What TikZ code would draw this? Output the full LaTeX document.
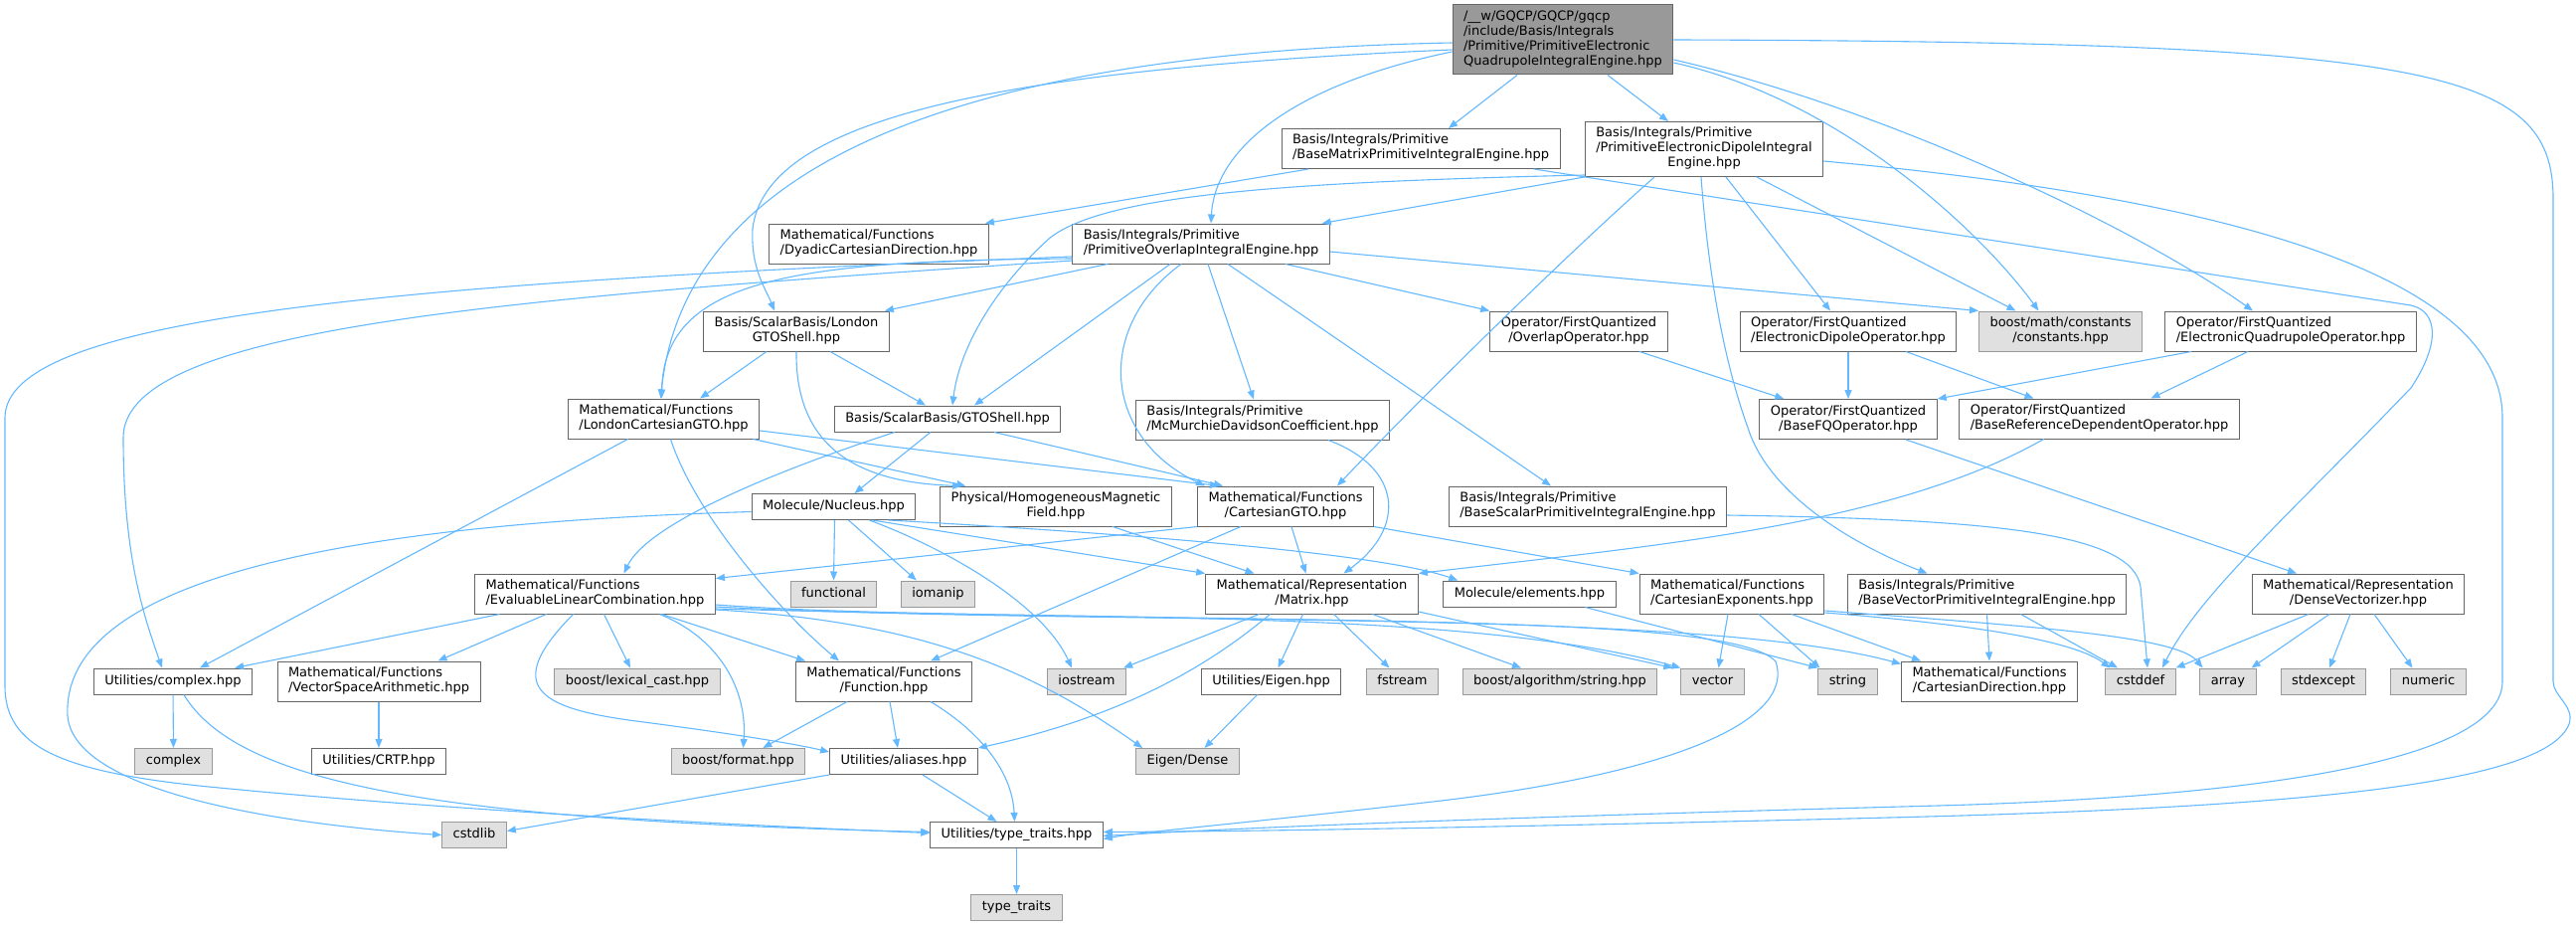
\documentclass[tikz,border=0pt]{standalone}
\usepackage{fontspec}
\setmainfont{DejaVu Sans}
\usetikzlibrary{arrows.meta}
\definecolor{boxgray}{HTML}{666666}
\definecolor{libgray}{HTML}{999999}
\definecolor{libfill}{HTML}{E0E0E0}
\definecolor{srcfill}{HTML}{999999}
\definecolor{edgeblue}{HTML}{63B8FF}
\newcommand{\twoline}[2]{\begin{tabular}{@{}l@{}}#1\\\multicolumn{1}{@{}c@{}}{#2}\end{tabular}}
\newcommand{\oneline}[1]{\begin{tabular}{@{}c@{}}#1\end{tabular}}

\begin{document}
\begin{tikzpicture}[x=1pt, y=-1pt, >={Triangle[length=9pt,width=7pt]},
    hdr/.style={draw=boxgray, fill=white, line width=1pt, inner xsep=11pt, inner ysep=5pt,
                minimum height=26pt, font=\fontsize{13}{15}\selectfont},
    lib/.style={hdr, draw=libgray, fill=libfill},
    src/.style={hdr, fill=srcfill},
    inc/.style={->, draw=edgeblue, line width=1.1pt}]
    \useasboundingbox (0,0) rectangle (2591,931);

    \node[src] (root) at (1572,40) {\twoline{/\_\_w/GQCP/GQCP/gqcp\\/include/Basis/Integrals\\/Primitive/PrimitiveElectronic}{QuadrupoleIntegralEngine.hpp}};
    \node[hdr] (bmat) at (1429,149.5) {\twoline{Basis/Integrals/Primitive}{/BaseMatrixPrimitiveIntegralEngine.hpp}};
    \node[hdr] (dip) at (1714,150) {\twoline{Basis/Integrals/Primitive\\/PrimitiveElectronicDipoleIntegral}{Engine.hpp}};
    \node[hdr] (dyad) at (884,245) {\twoline{Mathematical/Functions}{/DyadicCartesianDirection.hpp}};
    \node[hdr] (ovl) at (1208,245) {\twoline{Basis/Integrals/Primitive}{/PrimitiveOverlapIntegralEngine.hpp}};
    \node[hdr] (lgto) at (801,333) {\twoline{Basis/ScalarBasis/London}{GTOShell.hpp}};
    \node[hdr] (ovop) at (1588,333) {\twoline{Operator/FirstQuantized}{/OverlapOperator.hpp}};
    \node[hdr] (dipop) at (1859,333) {\twoline{Operator/FirstQuantized}{/ElectronicDipoleOperator.hpp}};
    \node[lib] (bmc) at (2072.5,333) {\twoline{boost/math/constants}{/constants.hpp}};
    \node[hdr] (quadop) at (2304,333) {\twoline{Operator/FirstQuantized}{/ElectronicQuadrupoleOperator.hpp}};
    \node[hdr] (lcart) at (667.5,421) {\twoline{Mathematical/Functions}{/LondonCartesianGTO.hpp}};
    \node[hdr] (gto) at (953,421) {\oneline{Basis/ScalarBasis/GTOShell.hpp}};
    \node[hdr] (mcm) at (1270,422) {\twoline{Basis/Integrals/Primitive}{/McMurchieDavidsonCoefficient.hpp}};
    \node[hdr] (bfq) at (1859,421.5) {\twoline{Operator/FirstQuantized}{/BaseFQOperator.hpp}};
    \node[hdr] (bref) at (2111.5,421) {\twoline{Operator/FirstQuantized}{/BaseReferenceDependentOperator.hpp}};
    \node[hdr] (nuc) at (838.5,509.5) {\oneline{Molecule/Nucleus.hpp}};
    \node[hdr] (hmf) at (1062,509) {\twoline{Physical/HomogeneousMagnetic}{Field.hpp}};
    \node[hdr] (cgto) at (1293,509) {\twoline{Mathematical/Functions}{/CartesianGTO.hpp}};
    \node[hdr] (bscal) at (1597,509) {\twoline{Basis/Integrals/Primitive}{/BaseScalarPrimitiveIntegralEngine.hpp}};
    \node[hdr] (elc) at (598.5,597) {\twoline{Mathematical/Functions}{/EvaluableLinearCombination.hpp}};
    \node[lib] (fnl) at (838.5,597) {\oneline{functional}};
    \node[lib] (iom) at (943.5,597) {\oneline{iomanip}};
    \node[hdr] (mat) at (1319.5,597) {\twoline{Mathematical/Representation}{/Matrix.hpp}};
    \node[hdr] (elem) at (1538.5,597) {\oneline{Molecule/elements.hpp}};
    \node[hdr] (cexp) at (1742,597) {\twoline{Mathematical/Functions}{/CartesianExponents.hpp}};
    \node[hdr] (bvec) at (1998.5,597) {\twoline{Basis/Integrals/Primitive}{/BaseVectorPrimitiveIntegralEngine.hpp}};
    \node[hdr] (dvec) at (2372,597) {\twoline{Mathematical/Representation}{/DenseVectorizer.hpp}};
    \node[hdr] (ucpx) at (174,685) {\oneline{Utilities/complex.hpp}};
    \node[hdr] (vsa) at (381,685) {\twoline{Mathematical/Functions}{/VectorSpaceArithmetic.hpp}};
    \node[lib] (lex) at (641,685) {\oneline{boost/lexical\_cast.hpp}};
    \node[hdr] (fun) at (889,685) {\twoline{Mathematical/Functions}{/Function.hpp}};
    \node[lib] (ios) at (1093,685) {\oneline{iostream}};
    \node[hdr] (ueig) at (1278.5,685) {\oneline{Utilities/Eigen.hpp}};
    \node[lib] (fst) at (1410.5,685) {\oneline{fstream}};
    \node[lib] (bstr) at (1569,685) {\oneline{boost/algorithm/string.hpp}};
    \node[lib] (vec) at (1722.5,685) {\oneline{vector}};
    \node[lib] (str) at (1858.5,685) {\oneline{string}};
    \node[hdr] (cdir) at (2001,685) {\twoline{Mathematical/Functions}{/CartesianDirection.hpp}};
    \node[lib] (cdef) at (2153,685) {\oneline{cstddef}};
    \node[lib] (arr) at (2241,685) {\oneline{array}};
    \node[lib] (sexc) at (2337,685) {\oneline{stdexcept}};
    \node[lib] (num) at (2442.5,685) {\oneline{numeric}};
    \node[lib] (cpx) at (174.5,765.5) {\oneline{complex}};
    \node[hdr] (crtp) at (381,765.5) {\oneline{Utilities/CRTP.hpp}};
    \node[lib] (bfmt) at (742.5,765.5) {\oneline{boost/format.hpp}};
    \node[hdr] (als) at (909,765.5) {\oneline{Utilities/aliases.hpp}};
    \node[lib] (eigd) at (1194.5,765.5) {\oneline{Eigen/Dense}};
    \node[lib] (cstl) at (477,839.5) {\oneline{cstdlib}};
    \node[hdr] (tth) at (1022.5,839.5) {\oneline{Utilities/type\_traits.hpp}};
    \node[lib] (tt) at (1022.5,912.5) {\oneline{type\_traits}};

    \draw[inc] ([xshift=-46pt]root.south) -- ([xshift=28pt]bmat.north);
    \draw[inc] ([xshift=45pt]root.south) -- ([xshift=-36pt]dip.north);
    \draw[inc] ([yshift=-12pt]root.west) .. controls (1300,85) and (1222,150) .. ([xshift=10pt]ovl.north);
    \draw[inc] ([yshift=-3pt]root.west) .. controls (1000,52) and (690,150) .. ([xshift=-3pt]lcart.north);
    \draw[inc] ([yshift=-10pt]root.west) .. controls (1000,70) and (770,120) .. (757,230)
        .. controls (755,270) and (770,290) .. ([xshift=-22pt]lgto.north);
    \draw[inc] (root.east) .. controls (2450,42) and (2568,70) .. (2568,200) -- (2568,685)
        .. controls (2568,700) and (2590,710) .. (2584,728) .. controls (2560,790) and (2300,812) .. (1900,822)
        .. controls (1500,832) and (1250,836) .. ([yshift=3pt]tth.east);
    \draw[inc] ([yshift=-23pt]root.east) .. controls (1850,100) and (1990,230) .. ([xshift=-22pt]bmc.north);
    \draw[inc] ([yshift=-20pt]root.east) .. controls (1900,110) and (2150,230) .. ([xshift=-38pt]quadop.north);

    \draw[inc] (dip.south west) -- ([xshift=-8pt]ovl.north east);
    \draw[inc] ([yshift=2pt]dip.south west) .. controls (1300,183) and (1110,195) .. (1055,240)
        .. controls (1000,290) and (965,350) .. ([xshift=5pt]gto.north);
    \draw[inc] ([xshift=-50pt]dip.south) .. controls (1560,270) and (1410,420) .. ([xshift=-37pt]cgto.north east);
    \draw[inc] ([xshift=22pt]dip.south) -- ([xshift=-18pt]dipop.north);
    \draw[inc] ([xshift=53pt]dip.south) -- ([xshift=-45pt]bmc.north);
    \draw[inc] ([xshift=-3pt]dip.south) .. controls (1720,300) and (1740,380) .. (1758,430)
        .. controls (1780,500) and (1870,550) .. ([xshift=-60pt]bvec.north);
    \draw[inc] ([yshift=-12pt]dip.east) .. controls (2250,200) and (2517,280) .. (2517,420) -- (2517,685)
        .. controls (2517,760) and (2300,800) .. (1950,810) .. controls (1500,822) and (1250,832) .. ([yshift=-1pt]tth.east);

    \draw[inc] ([xshift=-113pt]bmat.south) -- ([xshift=-4pt]dyad.north east);
    \draw[inc] ([xshift=114pt]bmat.south) -- (2425,307) .. controls (2452,313) and (2455,345) .. (2425,390)
        .. controls (2300,520) and (2210,600) .. ([xshift=22pt]cdef.north);

    \draw[inc] ([yshift=-15pt]ovl.west) .. controls (800,262) and (668,280) .. ([xshift=-2pt]lcart.north);
    \draw[inc] ([yshift=-13pt]ovl.west) .. controls (380,285) and (5,320) .. (5,420) -- (5,690)
        .. controls (5,750) and (60,775) .. (200,790) .. controls (450,815) and (750,830) .. ([yshift=2pt]tth.west);
    \draw[inc] ([yshift=-17pt]ovl.west) .. controls (500,300) and (124,330) .. (124,440)
        .. controls (124,560) and (145,620) .. ([xshift=-11pt]ucpx.north);
    \draw[inc] ([xshift=-94pt]ovl.south) -- ([xshift=-5pt]lgto.north east);
    \draw[inc] ([xshift=-31pt]ovl.south) -- ([xshift=27pt]gto.north);
    \draw[inc] ([xshift=-20pt]ovl.south) .. controls (1100,330) and (1110,440) .. ([xshift=8pt]cgto.north west);
    \draw[inc] ([xshift=7pt]ovl.south) -- ([xshift=-9pt]mcm.north);
    \draw[inc] ([xshift=27pt]ovl.south) -- ([xshift=-37pt]bscal.north);
    \draw[inc] ([xshift=85pt]ovl.south) -- (ovop.north west);
    \draw[inc] ([yshift=-8pt]ovl.east) -- (bmc.north west);

    \draw[inc] ([xshift=-30pt]lgto.south) -- ([xshift=-60pt]lcart.north east);
    \draw[inc] ([xshift=34pt]lgto.south) -- ([xshift=-22pt]gto.north);
    \draw[inc] (lgto.south) .. controls (800,440) and (850,485) .. ([xshift=22pt]hmf.north west);

    \draw[inc] ([xshift=-36pt]lcart.south) -- ([xshift=27pt]ucpx.north);
    \draw[inc] ([xshift=7pt]lcart.south) .. controls (700,520) and (790,620) .. ([xshift=-45pt]fun.north);
    \draw[inc] ([xshift=90pt]lcart.south) -- ([xshift=26pt]hmf.north west);
    \draw[inc] ([yshift=-12pt]lcart.east) -- ([xshift=22pt]cgto.north west);

    \draw[inc] ([xshift=47pt]gto.south) -- ([xshift=26pt]cgto.north west);
    \draw[inc] ([xshift=-17pt]gto.south) -- ([xshift=21pt]nuc.north);
    \draw[inc] ([xshift=-53pt]gto.south) .. controls (760,480) and (650,530) .. ([xshift=29pt]elc.north);

    \draw[inc] ([xshift=1pt]nuc.south) -- (fnl.north);
    \draw[inc] ([xshift=15pt]nuc.south) -- ([xshift=16pt]iom.north west);
    \draw[inc] ([xshift=36pt]nuc.south) .. controls (960,555) and (1050,610) .. ([xshift=-15pt]ios.north);
    \draw[inc] ([xshift=39pt]nuc.south) -- (mat.north west);
    \draw[inc] ([xshift=55pt]nuc.south) .. controls (1200,540) and (1400,560) .. ([xshift=15pt]elem.north west);
    \draw[inc] ([yshift=-5pt]nuc.west) .. controls (400,525) and (60,570) .. (68,720)
        .. controls (75,800) and (300,830) .. (cstl.west);

    \draw[inc] ([xshift=57pt]hmf.south) -- ([xshift=-58pt]mat.north);

    \draw[inc] (cgto.south west) -- ([yshift=-5pt]elc.north east);
    \draw[inc] ([xshift=-45pt]cgto.south) -- ([xshift=-42pt]fun.north east);
    \draw[inc] ([xshift=6pt]cgto.south) -- ([xshift=-6pt]mat.north);
    \draw[inc] (cgto.south east) -- (cexp.north west);

    \draw[inc] ([xshift=66pt]mcm.south) .. controls (1410,470) and (1415,530) .. ([xshift=32pt]mat.north);
    \draw[inc] ([yshift=-9pt]bscal.east) .. controls (2000,522) and (2145,535) .. (2153,590) -- ([xshift=7pt]cdef.north);

    \draw[inc] ([xshift=61pt]ovop.south) -- ([xshift=25pt]bfq.north west);
    \draw[inc] (dipop.south) -- (bfq.north);
    \draw[inc] ([xshift=58pt]dipop.south) -- ([xshift=-66pt]bref.north);
    \draw[inc] ([xshift=-100pt]quadop.south) -- (bfq.north east);
    \draw[inc] ([xshift=-43pt]quadop.south) -- ([xshift=52pt]bref.north);
    \draw[inc] ([xshift=58pt]bfq.south) -- ([xshift=-62pt]dvec.north);
    \draw[inc] ([xshift=-56pt]bref.south) .. controls (1900,530) and (1650,550) .. (mat.north east);

    \draw[inc] ([xshift=-96pt]elc.south) -- ([xshift=-18pt]ucpx.north east);
    \draw[inc] ([xshift=-49pt]elc.south) -- ([xshift=-43pt]vsa.north east);
    \draw[inc] ([xshift=-22pt]elc.south) .. controls (505,690) and (540,712) .. (640,725)
        .. controls (740,738) and (800,748) .. ([yshift=-4pt]als.north west);
    \draw[inc] ([xshift=9pt]elc.south) -- ([xshift=-7pt]lex.north);
    \draw[inc] ([xshift=65pt]elc.south) .. controls (720,640) and (752,690) .. ([xshift=5pt]bfmt.north);
    \draw[inc] ([xshift=67pt]elc.south) -- ([xshift=10pt]fun.north west);
    \draw[inc] ([yshift=-16pt]elc.east) .. controls (930,625) and (1040,675) .. ([xshift=7pt]eigd.north west);
    \draw[inc] ([yshift=-11pt]elc.east) .. controls (1000,628) and (1450,605) .. (vec.north west);
    \draw[inc] ([yshift=-13pt]elc.east) .. controls (1100,630) and (1700,610) .. ([yshift=-3pt]cdir.north west);
    \draw[inc] ([yshift=-15pt]elc.east) .. controls (1300,628) and (1740,615) .. (1786,665)
        .. controls (1805,720) and (1700,775) .. (1450,805) .. controls (1250,828) and (1150,836) .. ([yshift=-4pt]tth.east);

    \draw[inc] ([xshift=-53pt]mat.south) -- ([xshift=-3pt]ios.north east);
    \draw[inc] ([xshift=-42pt]mat.south) .. controls (1215,670) and (1130,720) .. (als.north east);
    \draw[inc] ([xshift=-9pt]mat.south) -- ([xshift=7pt]ueig.north);
    \draw[inc] ([xshift=22pt]mat.south) -- ([xshift=-13pt]fst.north);
    \draw[inc] ([xshift=61pt]mat.south) -- ([xshift=-39pt]bstr.north);
    \draw[inc] ([yshift=-18pt]mat.east) -- ([xshift=-8pt]vec.north west);

    \draw[inc] ([xshift=-14pt]ueig.south) -- ([xshift=17pt]eigd.north);
    \draw[inc] ([xshift=-37pt]fun.south) -- ([xshift=-43pt]bfmt.north east);
    \draw[inc] ([xshift=6pt]fun.south) -- ([xshift=-6pt]als.north);
    \draw[inc] ([xshift=47pt]fun.south) .. controls (985,735) and (1018,775) .. ([xshift=-2pt]tth.north);
    \draw[inc] ([xshift=19pt]als.south) -- ([xshift=-20pt]tth.north);
    \draw[inc] (als.south west) -- ([yshift=4pt]cstl.east);
    \draw[inc] (ucpx) -- (cpx);
    \draw[inc] ([xshift=11pt]ucpx.south) .. controls (240,790) and (450,825) .. ([yshift=3pt]tth.west);
    \draw[inc] (vsa) -- (crtp);
    \draw[inc] (tth) -- (tt);

    \draw[inc] ([xshift=-4pt]cexp.south) -- ([xshift=6pt]vec.north);
    \draw[inc] ([xshift=27pt]cexp.south) -- ([xshift=-28pt]str.north);
    \draw[inc] ([xshift=60pt]cexp.south) -- ([xshift=20pt]cdir.north west);
    \draw[inc] ([yshift=-19pt]cexp.east) .. controls (1950,625) and (2080,640) .. ([xshift=5pt]cdef.north west);
    \draw[inc] ([yshift=-17pt]cexp.east) .. controls (2050,630) and (2190,640) .. ([xshift=3pt]arr.north west);
    \draw[inc] ([xshift=56pt]elem.south) -- (str.north west);
    \draw[inc] (bvec.south) -- (cdir.north);
    \draw[inc] ([xshift=34pt]bvec.south) -- ([xshift=-23pt]cdef.north);
    \draw[inc] ([xshift=-50pt]dvec.south) -- (cdef.north east);
    \draw[inc] ([xshift=-29pt]dvec.south) -- ([xshift=-5pt]arr.north east);
    \draw[inc] ([xshift=-8pt]dvec.south) -- ([xshift=6pt]sexc.north);
    \draw[inc] ([xshift=16pt]dvec.south) -- ([xshift=-16pt]num.north);
\end{tikzpicture}
\end{document}
